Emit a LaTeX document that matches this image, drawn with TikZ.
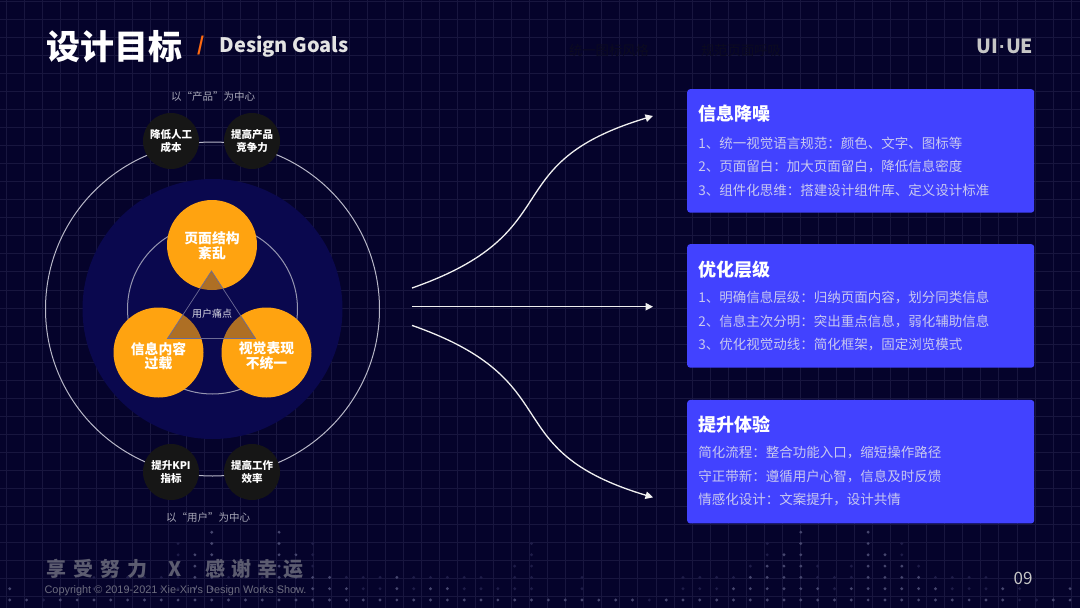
\documentclass[tikz,border=0pt]{standalone}
\usepackage{fontspec}
\setmainfont{Noto Sans CJK SC}
\newfontfamily\arialf{Liberation Sans}
\usetikzlibrary{arrows.meta}
\definecolor{bg}{HTML}{05032B}
\definecolor{gridc}{HTML}{18163F}
\definecolor{discc}{HTML}{0A084E}
\definecolor{orc}{HTML}{FFA310}
\definecolor{blk}{HTML}{161616}
\definecolor{boxc}{HTML}{4242FF}
\definecolor{bodyc}{HTML}{C8C8F0}
\definecolor{dotb}{HTML}{46466E}
\definecolor{dotf}{HTML}{1E1C48}
\definecolor{slashc}{HTML}{FF6A10}
\definecolor{footc}{HTML}{5C5C70}
\definecolor{ringc}{HTML}{B8B8C8}
\definecolor{labc}{HTML}{A8A8B8}
\definecolor{darkt}{HTML}{0C0B20}
\tikzset{
  blackc/.style={circle, fill=blk, minimum size=56pt, text=white, align=center, font=\fontsize{10.5}{13}\selectfont\bfseries},
  orangec/.style={circle, fill=orc, minimum size=90pt},
  orangetext/.style={text=white, align=center, font=\fontsize{13.8}{14.5}\selectfont\bfseries},
  bluebox/.style={rounded corners=3pt, fill=boxc, minimum width=347pt, minimum height=123.5pt},
  boxtitle/.style={anchor=west, text=white, font=\fontsize{18}{20}\selectfont\bfseries},
  boxline/.style={anchor=west, text=bodyc, font=\fontsize{13.5}{15}\selectfont},
  flow/.style={draw=white!88!gray, line width=1.3pt, -{Triangle[length=7.5pt,width=7.5pt]}},
  smalllab/.style={text=labc, font=\fontsize{10.5}{12}\selectfont},
}
\begin{document}
\begin{tikzpicture}[x=1pt,y=-1pt, every node/.style={inner sep=0pt, outer sep=0pt}]
\useasboundingbox (0,0) rectangle (1080,608);
\fill[bg] (0,0) rectangle (1080,608);
% grid
\foreach \i in {0,...,60} \draw[gridc, line width=0.6pt] ({6+18.05*\i},0) -- ({6+18.05*\i},608);
\foreach \i in {0,...,34} \draw[gridc, line width=0.6pt] (0,{1+18.05*\i}) -- (1080,{1+18.05*\i});
% dots
\foreach \k/\h/\t in {0/2/2,1/1/1,2/0/1,3/1/1,4/1/2,5/1/3,6/1/3,7/1/3,8/1/3,9/1/3,10/1/6,11/5/5,12/7/7,13/1/3,14/1/3,15/1/3,16/7/7,17/5/5,18/3/6,19/3/3,20/2/3,21/1/3,22/1/3,23/3/3,24/1/3,25/2/3,26/2/3,27/1/3,28/1/3,29/1/2,30/1/4,31/1/6,32/1/1,33/1/1,34/1/3,35/1/1,36/1/1,37/1/1,38/0/1,39/1/1,40/1/3,41/1/3,42/1/3,43/2/3,44/3/4,45/4/6,46/5/5,47/7/7,48/2/4,49/1/3,50/2/4,51/7/7,52/5/5,53/4/6,54/3/4,55/2/3,56/1/3,57/1/3,58/1/3,59/2/2,60/0/2,61/0/1,62/1/1,63/2/2}{
  \foreach \j in {1,...,\t}{
    \ifnum\j>\h
      \fill[dotf] ({9.8+16.83*\k},{600-11.3*(\j-1)}) circle[radius=1.6pt];
    \else
      \fill[dotb] ({9.8+16.83*\k},{600-11.3*(\j-1)}) circle[radius=1.6pt];
    \fi
  }
}
% header
\node[text=white, font=\fontsize{34}{36}\selectfont\bfseries] (title) at (114,47) {设计目标};
\node[text=slashc, font=\fontsize{19}{20}\selectfont\bfseries] (slash) at (201,46) {/};
\node[anchor=west, text=white!78!gray, font=\fontsize{20}{22}\selectfont\bfseries] (sub) at (219.5,47) {Design Goals};
\node[text=darkt, font=\fontsize{13.3}{15}\selectfont] (h1) at (609,50) {统一图标风格};
\node[text=darkt, font=\fontsize{13.3}{15}\selectfont] (h2) at (741,50) {规范页面呼吸};
\node[text=white!55!gray, font=\fontsize{19.5}{22}\selectfont\bfseries] (uiue) at (1005,46) {UI{\arialf\bfseries\kern0.5pt·\kern0.5pt}UE};
% left diagram
\coordinate (C) at (212.5,309);
\draw[ringc, line width=1pt] (C) circle[radius=167pt];
\fill[discc] (C) circle[radius=130pt];
\draw[ringc!80!discc, line width=1pt] (C) circle[radius=85pt];
\node[smalllab] (lt) at (213,97) {以“产品”为中心};
\node[smalllab] (lb) at (208,517) {以“用户”为中心};
\node[blackc] (b1) at (171,141) {降低人工\\成本};
\node[blackc] (b2) at (252,141) {提高产品\\竞争力};
\node[blackc] (b3) at (171,472) {提升KPI\\指标};
\node[blackc] (b4) at (252,472) {提高工作\\效率};
\node[orangec] (o1) at (212,245) {};
\node[orangec] (o2) at (158.5,352.5) {};
\node[orangec] (o3) at (266.5,352.5) {};
\coordinate (t1) at (211.5,271);
\coordinate (t2) at (167.5,338.5);
\coordinate (t3) at (255.5,338.5);
\fill[discc, opacity=0.33] (t1) -- (t2) -- (t3) -- cycle;
\draw[white!40!discc, line width=0.7pt] (t1) -- (t2) -- (t3) -- cycle;
\node[orangetext] (o1t) at (212,245.5) {页面结构\\紊乱};
\node[orangetext] (o2t) at (158.5,356) {信息内容\\过载};
\node[orangetext] (o3t) at (266.5,356) {视觉表现\\不统一};
\node[text=white!85!discc, font=\fontsize{10}{12}\selectfont] (pain) at (212,314) {用户痛点};
% arrows
\coordinate (s1) at (412,288);
\coordinate (e1) at (653,116);
\coordinate (s2) at (412,306.7);
\coordinate (e2) at (653,306.7);
\coordinate (s3) at (412,325.4);
\coordinate (e3) at (653,497.4);
\draw[flow] (s1) .. controls (572,232) and (493,164) .. (e1);
\draw[flow] (s2) -- (e2);
\draw[flow] (s3) .. controls (572,381.4) and (493,449.4) .. (e3);
% boxes
\node[bluebox] (box1) at (860.7,150.9) {};
\node[bluebox] (box2) at (860.7,305.9) {};
\node[bluebox] (box3) at (860.7,461.7) {};
\node[boxtitle] (bt1) at (698.3,113.5) {信息降噪};
\node[boxline] (l11) at (698.3,143) {1、统一视觉语言规范：颜色、文字、图标等};
\node[boxline] (l12) at (698.3,166.3) {2、页面留白：加大页面留白，降低信息密度};
\node[boxline] (l13) at (698.3,190) {3、组件化思维：搭建设计组件库、定义设计标准};
\node[boxtitle] (bt2) at (698.3,270) {优化层级};
\node[boxline] (l21) at (698.3,297.3) {1、明确信息层级：归纳页面内容，划分同类信息};
\node[boxline] (l22) at (698.3,321) {2、信息主次分明：突出重点信息，弱化辅助信息};
\node[boxline] (l23) at (698.3,344.3) {3、优化视觉动线：简化框架，固定浏览模式};
\node[boxtitle] (bt3) at (698.3,425) {提升体验};
\node[boxline] (l31) at (698.3,452.3) {简化流程：整合功能入口，缩短操作路径};
\node[boxline] (l32) at (698.3,476) {守正带新：遵循用户心智，信息及时反馈};
\node[boxline] (l33) at (698.3,499.3) {情感化设计：文案提升，设计共情};
% footer
\foreach \c/\x [count=\n] in {享/56.3,受/83.3,努/110.3,力/137.4,感/215.7,谢/241.6,幸/267.5,运/293.4}
  \node[text=footc, font=\fontsize{20}{22}\selectfont\bfseries] (f\n) at (\x,569) {\c};
\node[text=footc, font=\fontsize{20}{22}\selectfont\bfseries] (fx) at (175.3,569) {X};
\node[anchor=west, text=footc!90!white, font=\arialf\fontsize{10.9}{12}\selectfont] (copy) at (44.6,590.5) {Copyright © 2019-2021 Xie-Xin's Design Works Show.};
\node[text=white!55!gray, font=\fontsize{17}{18}\selectfont] (pg) at (1023,578) {09};
\end{tikzpicture}
\end{document}
